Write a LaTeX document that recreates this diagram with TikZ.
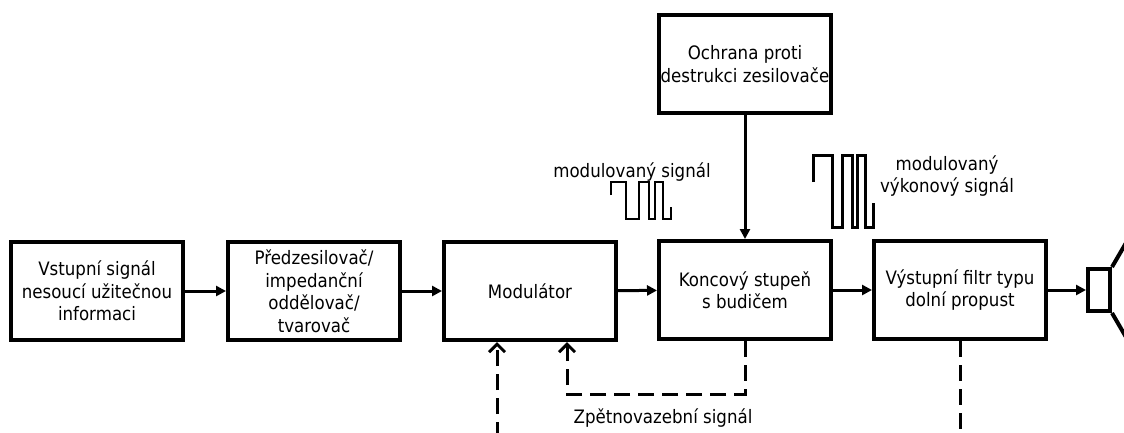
\documentclass[tikz,border=0pt]{standalone}
\usepackage{fontspec}
\setmainfont{DejaVu Sans}[FakeStretch=0.9]
\usetikzlibrary{arrows.meta}
\tikzset{
  blok/.style={draw,line width=4pt,minimum width=172pt,minimum height=98pt,align=center,inner sep=0pt},
  sip/.style={line width=3pt,-{Triangle[length=10pt,width=10pt]}},
  zpet/.style={line width=3pt,dash pattern=on 16pt off 8pt,-{Straight Barb[length=8pt,width=16pt]}},
  vlna/.style={line width=2.5pt}
}
\begin{document}
\begin{tikzpicture}[x=1pt,y=-1pt,font=\fontsize{18.5}{22.5}\selectfont]
\useasboundingbox (0,0) rectangle (1124,432);
% bloky
\node[blok] (vstup) at (97,291) {Vstupní signál\\nesoucí užitečnou\\informaci};
\node[blok] (pred) at (314,291) {Předzesilovač/\\impedanční\\oddělovač/\\tvarovač};
\node[blok] (mod) at (530,291) {Modulátor};
\node[blok] (konc) at (745,290) {Koncový stupeň\\s budičem};
\node[blok] (filtr) at (960,290) {Výstupní filtr typu\\dolní propust};
\node[blok] (ochr) at (745,64) {Ochrana proti\\destrukci zesilovače};
\node[draw,line width=4pt,minimum width=22pt,minimum height=42pt,inner sep=0pt] (repro) at (1099,290) {};
\draw[line width=4pt] (repro.north east)--++(18,-31) (repro.south east)--++(18,31);
% signalova cesta
\draw[sip] (vstup)--(pred);
\draw[sip] (pred)--(mod);
\draw[sip] (mod)--(konc);
\draw[sip] (konc)--(filtr);
\draw[sip] (filtr)--(repro);
\draw[sip] (ochr)--(konc);
% zpetna vazba
\draw[zpet] (konc.south)--++(0,53)-|([xshift=37pt]mod.south);
\draw[zpet] (filtr.south)--++(0,93)-|([xshift=-33pt]mod.south);
\node (zpettxt) at (663,418) {Zpětnovazební signál};
% prubehy
\node (modtxt) at (632,172) {modulovaný signál};
\draw[vlna] (611,195)--(611,182)--(626,182)--(626,219)--(639,219)--(639,182)--(649,182)--(649,219)
  --(655,219)--(655,182)--(663,182)--(663,219)--(671,219)--(671,207);
\node[align=center] (vyktxt) at (947,176) {modulovaný\\výkonový signál};
\draw[vlna,line width=3pt] (813,182)--(813,155)--(832,155)--(832,227)--(842,227)--(842,155)--(852,155)--(852,227)
  --(857,227)--(857,155)--(865,155)--(865,227)--(873,227)--(873,203);
\end{tikzpicture}
\end{document}
